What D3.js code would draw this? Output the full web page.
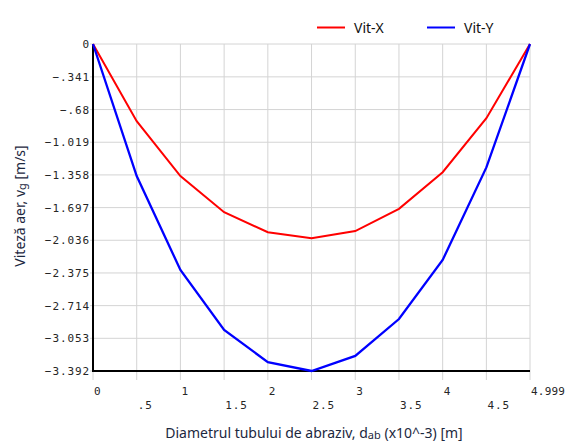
<!DOCTYPE html>
<html>
<head>
<meta charset="utf-8">
<script src="https://cdn.jsdelivr.net/npm/d3@7"></script>
<style>
  body { margin: 0; background: #fff; }
  .tick-lbl { font-family: "DejaVu Sans Mono", monospace; font-size: 11px; letter-spacing: 0.9px; fill: #262626; }
  .title { font-family: "Noto Sans", sans-serif; font-size: 14px; fill: #1c2840; }
</style>
</head>
<body>
<svg id="canvas" width="567" height="441"></svg>
<script>
// chart values
const xValues = [0, 0.5, 1, 1.5, 2, 2.5, 3, 3.5, 4, 4.5, 4.999];
const vitX = [0, -0.80, -1.37, -1.745, -1.953, -2.015, -1.94, -1.71, -1.33, -0.77, 0];
const vitY = [0, -1.37, -2.344, -2.967, -3.30, -3.392, -3.236, -2.853, -2.24, -1.28, 0];
const seriesNames = ['Vit-X', 'Vit-Y'];
const xTicks = [0, 0.5, 1, 1.5, 2, 2.5, 3, 3.5, 4, 4.5, 4.999];
const xTickLabels = ['0', '.5', '1', '1.5', '2', '2.5', '3', '3.5', '4', '4.5', '4.999'];
const yTicks = [0, -0.341, -0.68, -1.019, -1.358, -1.697, -2.036, -2.375, -2.714, -3.053, -3.392];
const yTickLabels = ['0', '\u2212.341', '\u2212.68', '\u22121.019', '\u22121.358', '\u22121.697', '\u22122.036', '\u22122.375', '\u22122.714', '\u22123.053', '\u22123.392'];

let canvas = d3.select('#canvas')
const plotL = 93, plotR = 530, plotT = 44, plotB = 371;

let x = d3.scaleLinear().domain([0, 4.999]).range([plotL, plotR])
let y = d3.scaleLinear().domain([-3.392, 0]).range([plotB, plotT])

// grid
canvas.append('g').selectAll('line')
    .data(xTicks).enter().append('line')
    .attr('x1', d => x(d)).attr('x2', d => x(d))
    .attr('y1', plotT).attr('y2', plotB + 9)
    .attr('stroke', '#d4d4d4').attr('stroke-width', 1)
canvas.append('g').selectAll('line')
    .data(yTicks).enter().append('line')
    .attr('x1', plotL - 3).attr('x2', plotR)
    .attr('y1', d => y(d)).attr('y2', d => y(d))
    .attr('stroke', '#d4d4d4').attr('stroke-width', 1)

// tick labels (alternate rows on x)
canvas.append('g').selectAll('text')
    .data(xTicks).enter().append('text')
    .attr('class', 'tick-lbl')
    .attr('x', d => x(d) + 1)
    .attr('y', (d, i) => i % 2 === 0 ? 395 : 409)
    .style('letter-spacing', (d, i) => i === xTicks.length - 1 ? '0.2px' : null)
    .text((d, i) => xTickLabels[i])
canvas.append('g').selectAll('text')
    .data(yTicks).enter().append('text')
    .attr('class', 'tick-lbl')
    .attr('text-anchor', 'end')
    .attr('x', 90)
    .attr('y', d => y(d) + 4)
    .text((d, i) => yTickLabels[i])

// axes lines
canvas.append('line').attr('x1', plotL).attr('x2', plotL).attr('y1', plotT).attr('y2', plotB + 1)
    .attr('stroke', '#000').attr('stroke-width', 2)
canvas.append('line').attr('x1', plotL - 1).attr('x2', plotR).attr('y1', plotB).attr('y2', plotB)
    .attr('stroke', '#000').attr('stroke-width', 2)

// series
let line = d3.line().x((d, i) => x(xValues[i])).y(d => y(d))
canvas.append('path').datum(vitX).attr('d', line)
    .attr('fill', 'none').attr('stroke', '#ff0000').attr('stroke-width', 2)
canvas.append('path').datum(vitY).attr('d', line)
    .attr('fill', 'none').attr('stroke', '#0000ff').attr('stroke-width', 2.3)

// legend
let legend = canvas.append('g')
let legendX = [317, 427]
let colors = ['#ff0000', '#0000ff']
seriesNames.forEach((name, i) => {
    legend.append('line')
        .attr('x1', legendX[i]).attr('x2', legendX[i] + 28)
        .attr('y1', 27.5).attr('y2', 27.5)
        .attr('stroke', colors[i]).attr('stroke-width', 2)
    legend.append('text')
        .attr('x', legendX[i] + 37).attr('y', 33)
        .attr('font-family', 'Noto Sans, sans-serif').attr('font-size', 14)
        .attr('fill', '#111')
        .text(name)
})

// axis titles
let xt = canvas.append('text').attr('class', 'title')
    .attr('x', 314).attr('y', 438).attr('text-anchor', 'middle')
xt.append('tspan').text('Diametrul tubului de abraziv, d')
xt.append('tspan').attr('font-size', 11).attr('dy', 1).text('ab')
xt.append('tspan').attr('dy', -1).text(' (x10^-3) [m]')

let yt = canvas.append('text').attr('class', 'title')
    .attr('transform', 'translate(25,206) rotate(-90)').attr('text-anchor', 'middle')
yt.append('tspan').text('Viteză aer, v')
yt.append('tspan').attr('font-size', 11).attr('dy', 1).text('g')
yt.append('tspan').attr('dy', -1).text(' [m/s]')
</script>
</body>
</html>
